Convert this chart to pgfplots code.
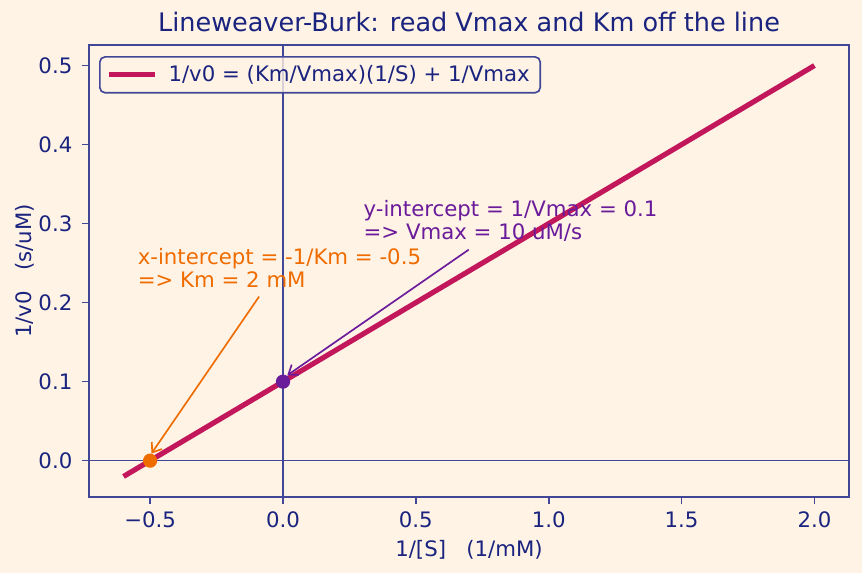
\documentclass[border=0pt]{standalone}
\usepackage{fontspec}
\setmainfont{DejaVu Sans}
\usepackage{pgfplots}
\pgfplotsset{compat=1.18}
\usetikzlibrary{arrows.meta,calc}
\definecolor{bg}{RGB}{255,243,230}
\definecolor{navy}{RGB}{26,35,126}
\definecolor{spine}{RGB}{65,70,150}
\definecolor{crimson}{RGB}{194,24,91}
\definecolor{orangeA}{RGB}{239,108,0}
\definecolor{purpleA}{RGB}{106,27,154}
\begin{document}
\begin{tikzpicture}
\fill[bg] (-42.72bp,-36.48bp) rectangle (371.04bp,238.56bp);
\useasboundingbox (-42.72bp,-36.48bp) rectangle (371.04bp,238.56bp);
\begin{axis}[
  at={(0,0)}, anchor=south west, scale only axis,
  width=364.8bp, height=216.96bp,
  xmin=-0.73, xmax=2.13, ymin=-0.046, ymax=0.526,
  axis background/.style={fill=bg},
  axis line style={spine, line width=0.8pt},
  tick style={spine, line width=0.8pt},
  tick align=outside, major tick length=3.4bp,
  xtick pos=left, ytick pos=left,
  xtick={-0.5,0,0.5,1,1.5,2},
  xticklabels={−0.5,0.0,0.5,1.0,1.5,2.0},
  ytick={0,0.1,0.2,0.3,0.4,0.5},
  yticklabels={0.0,0.1,0.2,0.3,0.4,0.5},
  tick label style={font=\fontsize{10.25}{12}\selectfont, text=navy, inner sep=0pt},
  x tick label style={anchor=base, yshift=-11bp},
  y tick label style={anchor=east, xshift=-4.4bp},
  title={Lineweaver-Burk: read Vmax and Km off the line},
  every axis title/.style={font=\fontsize{12.3}{14}\selectfont, text=navy, at={(axis description cs:0.5,1)}, anchor=base, yshift=6.24bp, inner sep=0pt},
  xlabel={1/[S]\ \ \ (1/mM)},
  xlabel style={font=\fontsize{10.25}{12}\selectfont, text=navy, at={(axis description cs:0.5,0)}, anchor=base, yshift=-28.7bp, inner sep=0pt},
  ylabel={1/v0\ \ \ (s/uM)},
  ylabel style={font=\fontsize{10.25}{12}\selectfont, text=navy, at={($(axis description cs:0,0.5)+(-27.5bp,0)$)}, anchor=base, inner sep=0pt},
  legend style={at={(axis description cs:0,1)}, anchor=north west, xshift=4.8bp, yshift=-5.3bp,
    draw=spine, line width=0.8pt, fill=bg, fill opacity=0.8, text opacity=1,
    rounded corners=2.5bp, inner xsep=3bp, inner ysep=2bp, column sep=3.5bp,
    font=\fontsize{10.25}{12}\selectfont, text=navy},
  legend image code/.code={\draw[#1, line width=2.5pt] (0bp,0bp) -- (22bp,0bp);},
  legend cell align=left,
]
\addplot[spine, line width=0.8pt, forget plot] coordinates {(-0.73,0) (2.13,0)};
\addplot[spine, line width=0.8pt, forget plot] coordinates {(0,-0.046) (0,0.526)};
\addplot[crimson, line width=2.5pt] coordinates {(-0.6,-0.02) (2.0,0.5)};
\addlegendentry{1/v0 = (Km/Vmax)(1/S) + 1/Vmax}
\addplot[only marks, mark=*, mark size=3.2bp, orangeA, forget plot] coordinates {(-0.5,0)};
\addplot[only marks, mark=*, mark size=3.2bp, purpleA, forget plot] coordinates {(0,0.1)};
\draw[orangeA, line width=0.8pt, -{Straight Barb[length=4bp,width=6bp]}] (axis cs:-0.09,0.2076) -- (axis cs:-0.495,0.009);
\draw[purpleA, line width=0.8pt, -{Straight Barb[length=4bp,width=6bp]}] (axis cs:0.699,0.267) -- (axis cs:0.016,0.108);
\node[anchor=base west, inner sep=0pt, text=orangeA, font=\fontsize{10.25}{12}\selectfont] at (axis cs:-0.548,0.248) {x-intercept = -1/Km = -0.5};
\node[anchor=base west, inner sep=0pt, text=orangeA, font=\fontsize{10.25}{12}\selectfont] at (axis cs:-0.548,0.2186) {=> Km = 2 mM};
\node[anchor=base west, inner sep=0pt, text=purpleA, font=\fontsize{10.25}{12}\selectfont] at (axis cs:0.302,0.309) {y-intercept = 1/Vmax = 0.1};
\node[anchor=base west, inner sep=0pt, text=purpleA, font=\fontsize{10.25}{12}\selectfont] at (axis cs:0.302,0.2797) {=> Vmax = 10 uM/s};
\end{axis}
\end{tikzpicture}
\end{document}
